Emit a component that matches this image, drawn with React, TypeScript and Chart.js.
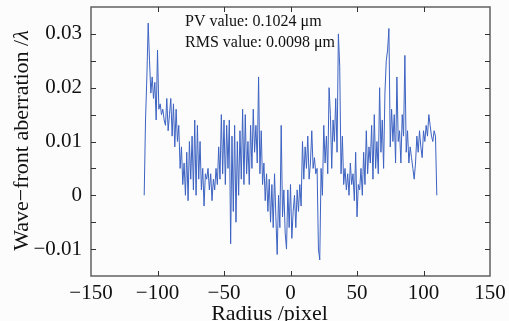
import { useEffect, useRef } from "react";
import { Chart, registerables } from "chart.js";

Chart.register(...registerables);

// Radius in pixels (integer samples from -110 to 110)
const radius: number[] = Array.from({ length: 221 }, (_, i) => i - 110);

// Wave-front aberration (in λ)
const aberration: number[] = [
  // -110 .. -81
  0, 0.014, 0.022, 0.032, 0.025, 0.019, 0.022, 0.018, 0.021, 0.014,
  0.027, 0.016, 0.017, 0.015, 0.016, 0.014, 0.013, 0.018, 0.012, 0.015,
  0.018, 0.011, 0.017, 0.009, 0.016, 0.01, 0.013, 0.005, 0.009, 0.002,
  // -80 .. -51
  0.006, 0.0, 0.008, -0.001, 0.01, 0.003, 0.011, 0.001, 0.014, 0.0,
  0.013, 0.003, 0.01, 0.001, 0.005, -0.002, 0.004, 0.003, 0.005, 0.001,
  0.004, -0.001, 0.003, 0.001, 0.005, 0.002, 0.009, 0.003, 0.015, 0.004,
  // -50 .. -21
  0.014, 0.002, 0.013, 0.005, 0.014, -0.009, 0.011, -0.003, 0.013, -0.005,
  0.01, 0.0, 0.012, 0.003, 0.016, 0.002, 0.015, 0.004, 0.01, 0.002,
  0.013, 0.005, 0.016, 0.008, 0.013, 0.006, 0.022, 0.004, 0.012, 0.002,
  // -20 .. 9
  0.006, -0.001, 0.004, -0.003, 0.003, -0.005, 0.002, -0.006, 0.004, -0.004,
  -0.011, 0.0, -0.006, 0.013, -0.004, 0.001, -0.007, -0.01, 0.001, -0.006,
  0.002, -0.008, -0.003, 0.0, -0.006, 0.001, -0.003, 0.002, -0.002, 0.01,
  // 10 .. 39
  0.003, 0.009, 0.005, 0.011, 0.003, 0.006, 0.012, 0.005, 0.007, 0.004,
  0.005, -0.01, -0.012, 0.005, 0.0, 0.013, 0.006, 0.011, 0.004, 0.02,
  0.015, 0.005, 0.014, 0.01, 0.018, 0.008, 0.03, 0.024, 0.004, 0.011,
  // 40 .. 69
  0.002, 0.005, 0.001, 0.004, 0.0, 0.006, 0.002, 0.004, -0.001, 0.008,
  -0.004, 0.002, 0.001, 0.005, 0.0, 0.008, 0.002, 0.012, 0.004, 0.009,
  0.006, 0.013, 0.003, 0.015, 0.005, 0.01, 0.004, 0.02, 0.008, 0.014,
  // 70 .. 99
  0.005, 0.019, 0.025, 0.027, 0.031, 0.009, 0.016, 0.01, 0.015, 0.006,
  0.022, 0.01, 0.012, 0.006, 0.015, 0.011, 0.026, 0.008, 0.012, 0.006,
  0.009, 0.007, 0.005, 0.003, 0.006, 0.011, 0.008, 0.012, 0.009, 0.007,
  // 100 .. 110
  0.012, 0.01, 0.013, 0.011, 0.015, 0.013, 0.011, 0.01, 0.012, 0.011,
  0,
];

const xTickValues: number[] = [-150, -100, -50, 0, 50, 100, 150];
const yTickValues: number[] = [-0.01, 0, 0.01, 0.02, 0.03];
const xTickMarks: number[] = [-100, -50, 0, 50, 100];
const yTickMarks: number[] = [-0.01, -0.005, 0, 0.005, 0.01, 0.015, 0.02, 0.025, 0.03];
const annotations: string[] = ["PV value: 0.1024 μm", "RMS value: 0.0098 μm"];
const xTitle = "Radius /pixel";
const yTitleText = "Wave−front aberration /";
const yTitleSymbol = "λ";

const SERIF = "'Liberation Serif', 'Times New Roman', serif";

function fmtY(v: number): string {
  if (Math.abs(v) < 1e-9) return "0";
  return (v < 0 ? "−" : "") + Math.abs(v).toFixed(2);
}
function fmtX(v: number): string {
  if (Math.abs(v) < 1e-9) return "0";
  return (v < 0 ? "−" : "") + String(Math.abs(v));
}

const framePlugin = {
  id: "frameAndText",
  beforeDraw(chart: any) {
    const ctx = chart.ctx;
    ctx.save();
    ctx.fillStyle = "#fcfcfc";
    ctx.fillRect(0, 0, chart.width, chart.height);
    ctx.restore();
  },
  afterDraw(chart: any) {
    const { ctx, chartArea: a } = chart;
    const xs = chart.scales.x;
    const ys = chart.scales.y;
    ctx.save();
    // frame
    ctx.strokeStyle = "#606060";
    ctx.lineWidth = 1.5;
    ctx.strokeRect(a.left, a.top, a.right - a.left, a.bottom - a.top);
    // inward ticks
    ctx.lineWidth = 1;
    ctx.strokeStyle = "#333";
    const tl = 5;
    ctx.beginPath();
    for (const v of xTickMarks) {
      const px = Math.round(xs.getPixelForValue(v)) + 0.5;
      ctx.moveTo(px, a.bottom);
      ctx.lineTo(px, a.bottom - tl);
      ctx.moveTo(px, a.top);
      ctx.lineTo(px, a.top + tl);
    }
    for (const v of yTickMarks) {
      const py = Math.round(ys.getPixelForValue(v)) + 0.5;
      ctx.moveTo(a.left, py);
      ctx.lineTo(a.left + tl, py);
      ctx.moveTo(a.right, py);
      ctx.lineTo(a.right - tl, py);
    }
    ctx.stroke();

    // annotations
    ctx.fillStyle = "#111";
    ctx.font = `16px ${SERIF}`;
    ctx.textAlign = "left";
    ctx.textBaseline = "alphabetic";
    ctx.fillText(annotations[0], a.left + 94, a.top + 19);
    ctx.fillText(annotations[1], a.left + 94, a.top + 40);

    // x title
    ctx.font = `22px ${SERIF}`;
    ctx.textAlign = "center";
    ctx.fillText(xTitle, (a.left + a.right) / 2 - 21, 320);

    // y title (rotated), with italic lambda
    ctx.translate(28, (a.top + a.bottom) / 2 - 1);
    ctx.rotate(-Math.PI / 2);
    ctx.font = `22px ${SERIF}`;
    const w1 = ctx.measureText(yTitleText).width;
    ctx.font = `italic 22px ${SERIF}`;
    const w2 = ctx.measureText(yTitleSymbol).width;
    const start = -(w1 + w2) / 2;
    ctx.textAlign = "left";
    ctx.font = `22px ${SERIF}`;
    ctx.fillText(yTitleText, start, 0);
    ctx.font = `italic 22px ${SERIF}`;
    ctx.fillText(yTitleSymbol, start + w1, 0);
    ctx.restore();
  },
};

export default function App() {
  const ref = useRef<HTMLCanvasElement | null>(null);
  useEffect(() => {
    if (!ref.current) return;
    const points = radius.map((r, i) => ({ x: r, y: aberration[i] }));
    const chart = new Chart(ref.current, {
      type: "line",
      data: {
        datasets: [
          {
            data: points,
            borderColor: "#3d63c2",
            borderWidth: 1,
            pointRadius: 0,
            tension: 0,
            fill: false,
          },
        ],
      },
      options: {
        animation: false,
        responsive: false,
        devicePixelRatio: 1,
        layout: { padding: { left: 0, right: 19, top: 7, bottom: 0 } },
        plugins: { legend: { display: false }, tooltip: { enabled: false } },
        scales: {
          x: {
            type: "linear",
            min: -150,
            max: 150,
            afterBuildTicks: (axis: any) => {
              axis.ticks = xTickValues.map((v) => ({ value: v }));
            },
            afterFit: (axis: any) => {
              axis.height = 45;
              axis.paddingLeft = 0;
              axis.paddingRight = 0;
            },
            grid: { display: false, drawTicks: false },
            border: { display: false },
            ticks: {
              padding: 5,
              maxRotation: 0,
              autoSkip: false,
              color: "#111",
              font: { family: SERIF, size: 21 },
              callback: (v: any) => fmtX(Number(v)),
            },
          },
          y: {
            type: "linear",
            min: -0.015,
            max: 0.035,
            afterBuildTicks: (axis: any) => {
              axis.ticks = yTickValues.map((v) => ({ value: v }));
            },
            afterFit: (axis: any) => {
              axis.width = 91;
              axis.paddingTop = 0;
              axis.paddingBottom = 0;
            },
            grid: { display: false, drawTicks: false },
            border: { display: false },
            ticks: {
              padding: 9,
              autoSkip: false,
              color: "#111",
              font: { family: SERIF, size: 21 },
              callback: (v: any) => fmtY(Number(v)),
            },
          },
        },
      },
      plugins: [framePlugin],
    });
    return () => chart.destroy();
  }, []);
  return (
    <canvas
      ref={ref}
      width={509}
      height={321}
      style={{ position: "fixed", left: 0, top: 0, width: 509, height: 321, display: "block" }}
    />
  );
}
